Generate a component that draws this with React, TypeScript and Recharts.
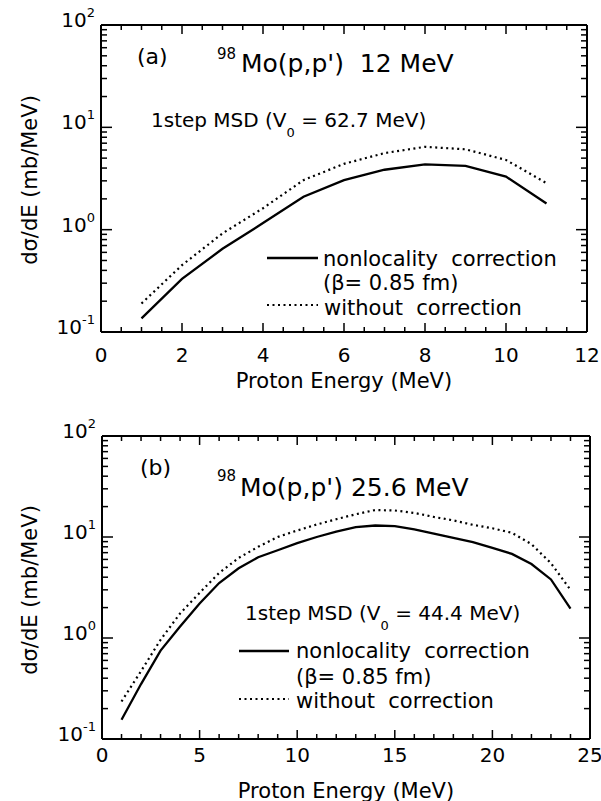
import React from "react";
import { LineChart, Line, XAxis, YAxis } from "recharts";

// panel (a): 98Mo(p,p') 12 MeV
const energyA = [1, 2, 3, 4, 5, 6, 7, 8, 9, 10, 11];
const nonlocalA = [0.136, 0.33, 0.65, 1.16, 2.1, 3.05, 3.85, 4.35, 4.2, 3.3, 1.8];
const withoutA = [0.19, 0.45, 0.92, 1.62, 3.05, 4.4, 5.6, 6.45, 6.1, 4.8, 2.85];
const xTicksA = [0, 0.5, 1, 1.5, 2, 2.5, 3, 3.5, 4, 4.5, 5, 5.5, 6, 6.5, 7, 7.5, 8, 8.5, 9, 9.5, 10, 10.5, 11, 11.5, 12];

// panel (b): 98Mo(p,p') 25.6 MeV
const energyB = [1, 2, 3, 4, 5, 6, 7, 8, 9, 10, 11, 12, 13, 14, 15, 16, 17, 18, 19, 20, 21, 22, 23, 24];
const nonlocalB = [0.155, 0.35, 0.75, 1.3, 2.2, 3.5, 4.9, 6.3, 7.4, 8.7, 10.0, 11.3, 12.5, 13.0, 12.8, 11.9, 10.8, 9.8, 8.9, 7.8, 6.8, 5.4, 3.8, 1.95];
const withoutB = [0.235, 0.47, 0.96, 1.75, 2.8, 4.4, 6.2, 8.0, 10.0, 11.6, 13.3, 15.0, 16.8, 18.5, 18.3, 17.3, 15.8, 14.6, 13.2, 12.2, 11.0, 8.5, 5.5, 3.0];
const xTicksB = [0, 1, 2, 3, 4, 5, 6, 7, 8, 9, 10, 11, 12, 13, 14, 15, 16, 17, 18, 19, 20, 21, 22, 23, 24, 25];

const yTicks = [
  0.1, 0.2, 0.3, 0.4, 0.5, 0.6, 0.7, 0.8, 0.9,
  1, 2, 3, 4, 5, 6, 7, 8, 9,
  10, 20, 30, 40, 50, 60, 70, 80, 90, 100,
];

const FONT = "DejaVu Sans";
const INK = "#000";

const dataA = energyA.map((e, i) => ({ e, nl: nonlocalA[i], wo: withoutA[i] }));
const dataB = energyB.map((e, i) => ({ e, nl: nonlocalB[i], wo: withoutB[i] }));

const isDecade = (v: number) => Math.abs(Math.log10(v) - Math.round(Math.log10(v))) < 1e-6;

function BottomTick(props: any) {
  const { x, y, payload, major, dy } = props;
  const v = payload.value;
  const big = Math.abs(v / major - Math.round(v / major)) < 1e-6;
  return (
    <g>
      <line x1={x} x2={x} y1={y} y2={y - (big ? 9 : 5)} stroke={INK} strokeWidth={1.5} />
      {big && (
        <text x={x} y={y + dy} textAnchor="middle" fontSize={20} fontFamily={FONT} fill={INK}>
          {v}
        </text>
      )}
    </g>
  );
}

function TopTick(props: any) {
  const { x, y, payload, major } = props;
  const v = payload.value;
  const big = Math.abs(v / major - Math.round(v / major)) < 1e-6;
  return <line x1={x} x2={x} y1={y} y2={y + (big ? 9 : 5)} stroke={INK} strokeWidth={1.5} />;
}

function LeftTick(props: any) {
  const { x, y, payload } = props;
  const v = payload.value;
  const big = isDecade(v);
  const exp = Math.round(Math.log10(v));
  return (
    <g>
      <line x1={x} x2={x + (big ? 11 : 6)} y1={y} y2={y} stroke={INK} strokeWidth={1.5} />
      {big && (
        <text x={x - 6} y={y + 2} textAnchor="end" fontSize={20} fontFamily={FONT} fill={INK}>
          10
          <tspan fontSize={13} dy={-10}>{exp}</tspan>
        </text>
      )}
    </g>
  );
}

function RightTick(props: any) {
  const { x, y, payload } = props;
  const big = isDecade(payload.value);
  return <line x1={x} x2={x - (big ? 11 : 6)} y1={y} y2={y} stroke={INK} strokeWidth={1.5} />;
}

function Panel(props: any) {
  const { data, xMax, xTicks, major, labelDy, height, margin } = props;
  return (
    <LineChart width={601} height={height} data={data} margin={margin}>
      <XAxis
        dataKey="e" type="number" domain={[0, xMax]} ticks={xTicks} interval={0}
        height={1} tickSize={0} tickMargin={0} axisLine={{ stroke: INK, strokeWidth: 2 }} tickLine={false}
        tick={(p: any) => <BottomTick {...p} major={major} dy={labelDy} />}
        allowDataOverflow
      />
      <XAxis
        xAxisId="t" orientation="top" dataKey="e" type="number" domain={[0, xMax]} ticks={xTicks} interval={0}
        height={1} tickSize={0} tickMargin={0} axisLine={{ stroke: INK, strokeWidth: 2 }} tickLine={false}
        tick={(p: any) => <TopTick {...p} major={major} />}
        allowDataOverflow
      />
      <YAxis
        type="number" scale="log" domain={[0.1, 100]} ticks={yTicks} interval={0}
        width={1} tickSize={0} tickMargin={0} axisLine={{ stroke: INK, strokeWidth: 2 }} tickLine={false}
        tick={(p: any) => <LeftTick {...p} />}
        allowDataOverflow
      />
      <YAxis
        yAxisId="r" orientation="right" type="number" scale="log" domain={[0.1, 100]} ticks={yTicks} interval={0}
        width={1} tickSize={0} tickMargin={0} axisLine={{ stroke: INK, strokeWidth: 2 }} tickLine={false}
        tick={(p: any) => <RightTick {...p} />}
        allowDataOverflow
      />
      <Line type="linear" dataKey="nl" stroke={INK} strokeWidth={2.3} dot={false} isAnimationActive={false} />
      <Line type="linear" dataKey="wo" stroke={INK} strokeWidth={2.2} strokeDasharray="2 3.5" dot={false} isAnimationActive={false} />
    </LineChart>
  );
}

const txt = { fontFamily: FONT, fill: INK, whiteSpace: "pre" as const };

export default function App() {
  return (
    <div style={{ position: "absolute", left: 0, top: 0, width: 601, height: 801, background: "#fff", overflow: "hidden" }}>
      <div style={{ position: "absolute", left: 0, top: 0 }}>
        <Panel data={dataA} xMax={12} xTicks={xTicksA} major={2} labelDy={30} height={400}
          margin={{ top: 24, right: 13, bottom: 67, left: 100 }} />
      </div>
      <div style={{ position: "absolute", left: 0, top: 400 }}>
        <Panel data={dataB} xMax={25} xTicks={xTicksB} major={5} labelDy={23} height={401}
          margin={{ top: 35, right: 10, bottom: 61, left: 101 }} />
      </div>
      <svg width={601} height={801} style={{ position: "absolute", left: 0, top: 0, pointerEvents: "none" }}>
        {/* panel (a) texts */}
        <text x={37} y={180} transform="rotate(-90 37 180)" textAnchor="middle" fontSize={21} style={txt}>dσ/dE (mb/MeV)</text>
        <text x={344} y={388} textAnchor="middle" fontSize={21} style={txt}>Proton Energy (MeV)</text>
        <text x={137} y={64} fontSize={22} style={txt}>(a)</text>
        <text x={217} y={59} fontSize={15} style={txt}>98</text>
        <text x={241} y={72} fontSize={25} style={txt}>Mo(p,p')  12 MeV</text>
        <text x={151} y={127} fontSize={20} style={txt}>
          1step MSD (V<tspan fontSize={13} dy={10}>0</tspan><tspan dy={-10}> = 62.7 MeV)</tspan>
        </text>
        <line x1={267} x2={318} y1={258} y2={258} stroke={INK} strokeWidth={2.3} />
        <text x={323} y={266} fontSize={21} style={txt}>nonlocality  correction</text>
        <text x={323} y={290} fontSize={21} style={txt}>(β= 0.85 fm)</text>
        <line x1={267} x2={318} y1={305} y2={305} stroke={INK} strokeWidth={2.2} strokeDasharray="2 3.5" />
        <text x={324} y={315} fontSize={21} style={txt}>without  correction</text>

        {/* panel (b) texts */}
        <text x={37} y={590} transform="rotate(-90 37 590)" textAnchor="middle" fontSize={21} style={txt}>dσ/dE (mb/MeV)</text>
        <text x={346} y={798} textAnchor="middle" fontSize={21} style={txt}>Proton Energy (MeV)</text>
        <text x={140} y={475} fontSize={22} style={txt}>(b)</text>
        <text x={217} y={481} fontSize={15} style={txt}>98</text>
        <text x={240} y={496} fontSize={25} style={txt}>Mo(p,p') 25.6 MeV</text>
        <text x={245} y={620} fontSize={20} style={txt}>
          1step MSD (V<tspan fontSize={13} dy={10}>0</tspan><tspan dy={-10}> = 44.4 MeV)</tspan>
        </text>
        <line x1={239} x2={289} y1={651} y2={651} stroke={INK} strokeWidth={2.3} />
        <text x={296} y={658} fontSize={21} style={txt}>nonlocality  correction</text>
        <text x={296} y={684} fontSize={21} style={txt}>(β= 0.85 fm)</text>
        <line x1={239} x2={289} y1={699} y2={699} stroke={INK} strokeWidth={2.2} strokeDasharray="2 3.5" />
        <text x={296} y={708} fontSize={21} style={txt}>without  correction</text>
      </svg>
    </div>
  );
}
